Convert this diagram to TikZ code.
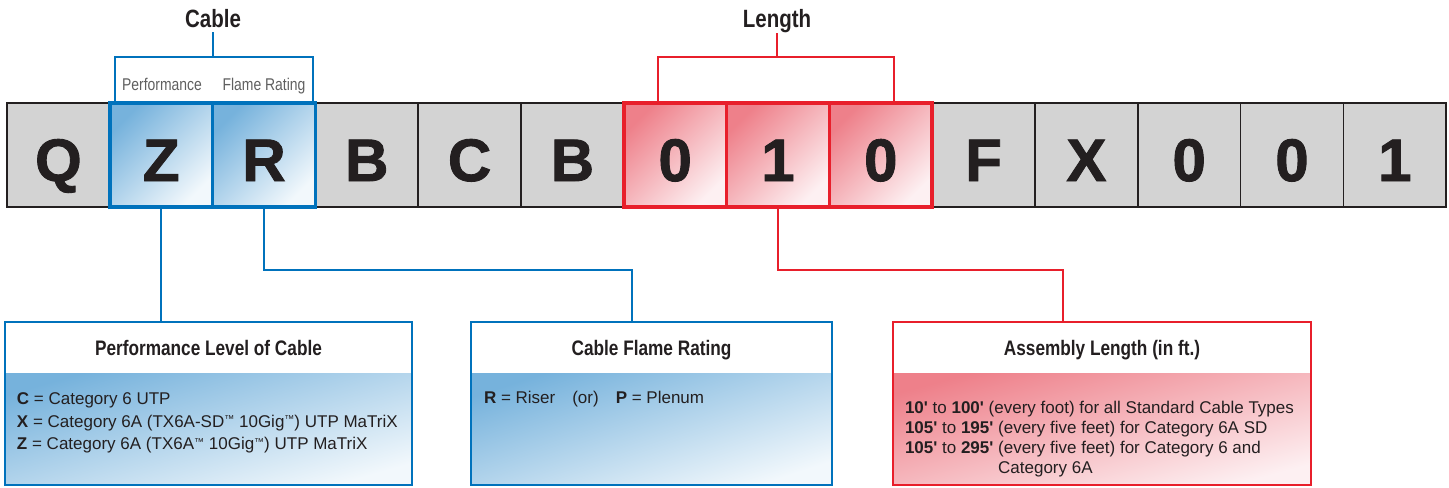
\documentclass[tikz,border=0pt]{standalone}
\usepackage{fontspec}
\setmainfont{Liberation Sans}
\newfontfamily\narrowfont[FakeStretch=0.82]{Liberation Sans}
\newfontfamily\heavyfont[FakeBold=1.5]{Liberation Sans Bold}
\newcommand\tmark{\raisebox{2.2pt}{\fontsize{5}{5}\selectfont ™}}
\usetikzlibrary{positioning}

\definecolor{pblue}{RGB}{0,114,188}
\definecolor{pred}{RGB}{232,31,43}
\definecolor{cellgray}{RGB}{211,211,211}
\definecolor{ink}{RGB}{35,31,32}
\definecolor{labelgray}{RGB}{95,95,95}
\definecolor{bluedark}{RGB}{118,178,220}
\definecolor{bluelight}{RGB}{242,248,252}
\definecolor{reddark}{RGB}{238,128,138}
\definecolor{redlight}{RGB}{253,240,242}

\begin{document}
\begin{tikzpicture}[x=0.5pt, y=-0.5pt,
  every node/.style={inner sep=0pt, outer sep=0pt, text=ink},
  cell/.style={rectangle, draw=ink, line width=0.8pt, fill=cellgray, minimum width=51.4pt, minimum height=52pt, text height=26pt, text depth=0pt, font=\heavyfont\fontsize{30}{30}\selectfont},
  bluecell/.style={cell, draw=pblue, line width=1.8pt, top color=bluedark, bottom color=bluelight, shading angle=45},
  redcell/.style={cell, draw=pred, line width=1.8pt, top color=reddark, bottom color=redlight, shading angle=45},
  title/.style={font=\narrowfont\bfseries\fontsize{12.5}{14}\selectfont},
  tag/.style={font=\narrowfont\fontsize{8.5}{10}\selectfont, text=labelgray},
  blueline/.style={draw=pblue, line width=1pt},
  redline/.style={draw=pred, line width=1pt},
  head/.style={rectangle, minimum height=25.5pt, text height=7.6pt, text depth=0pt, font=\narrowfont\bfseries\fontsize{10.5}{12}\selectfont},
  bluebody/.style={rectangle, minimum height=56pt, top color=bluedark, bottom color=bluelight, shading angle=16},
  redbody/.style={rectangle, minimum height=56pt, top color=reddark, bottom color=redlight, shading angle=15},
  entry/.style={align=left, font=\fontsize{8.5}{11.25}\selectfont}]
  \useasboundingbox (0,0) rectangle (1449,487);

  % part number strip
  \foreach \i/\ch in {0/Q,3/B,4/C,5/B,9/F,10/X,11/0,12/0,13/1}
    \node (c\i) [cell] at ({7+102.8*(\i+0.5)},155) {\ch};
  \foreach \i/\ch in {1/Z,2/R}
    \node (c\i) [bluecell] at ({7+102.8*(\i+0.5)},155) {\ch};
  \foreach \i/\ch in {6/0,7/1,8/0}
    \node (c\i) [redcell] at ({7+102.8*(\i+0.5)},155) {\ch};

  % brackets above
  \node (cable) [title, anchor=base] at (213,27) {Cable};
  \node (length) [title, anchor=base] at (777,27) {Length};
  \node (perftag) [tag, anchor=base] at (162,90) {Performance};
  \node (flametag) [tag, anchor=base] at (264,90) {Flame Rating};
  \draw[blueline] ([xshift=2.8pt]c1.north west) -- ++(0,-46) coordinate (bl) -| ([xshift=-1.2pt]c2.north east);
  \draw[blueline] ([yshift=-2.5pt]cable.base) -- (cable.base |- bl);
  \draw[redline] ([xshift=17pt]c6.north west) -- ++(0,-46) coordinate (rl) -| ([xshift=-19pt]c8.north east);
  \draw[redline] ([yshift=-3pt]length.base) -- (length.base |- rl);

  % description boxes
  \node (perfhead) [head, minimum width=203.5pt, anchor=north west] at (5,322) {Performance Level of Cable};
  \node (perfbody) [bluebody, minimum width=203.5pt, below=0pt of perfhead] {};
  \draw[blueline] (perfhead.north west) rectangle (perfbody.south east);
  \node (flamehead) [head, minimum width=180.5pt, anchor=north west] at (471,322) {Cable Flame Rating};
  \node (flamebody) [bluebody, minimum width=180.5pt, shading angle=18, below=0pt of flamehead] {};
  \draw[blueline] (flamehead.north west) rectangle (flamebody.south east);
  \node (lenhead) [head, minimum width=209pt, anchor=north west] at (893,322) {Assembly Length (in ft.)};
  \node (lenbody) [redbody, minimum width=209pt, below=0pt of lenhead] {};
  \draw[redline] (lenhead.north west) rectangle (lenbody.south east);

  \node (perftext) [entry, anchor=north west] at (17,393) {\textbf{C} = Category 6 UTP\\
    \textbf{X} = Category 6A (TX6A-SD\tmark\ 10Gig\tmark) UTP MaTriX\\
    \textbf{Z} = Category 6A (TX6A\tmark\ 10Gig\tmark) UTP MaTriX};
  \node (flametext) [entry, anchor=north west] at (484,391) {\textbf{R} = Riser\quad (or)\quad \textbf{P} = Plenum};
  \node (lentext) [entry, font=\fontsize{8.5}{10}\selectfont, anchor=north west] at (905,401) {\textbf{10\textquotesingle} to \textbf{100\textquotesingle} (every foot) for all Standard Cable Types\\
    \textbf{105\textquotesingle} to \textbf{195\textquotesingle} (every five feet) for Category 6A SD\\
    \textbf{105\textquotesingle} to \textbf{295\textquotesingle} (every five feet) for Category 6 and\\
    \hphantom{\textbf{105\textquotesingle} to \textbf{295\textquotesingle} }Category 6A};

  % connectors
  \draw[blueline] (c1.south) -- (c1.south |- perfhead.north);
  \draw[blueline] (c2.south) -- ++(0,63) -| ([xshift=-9.75pt]flamehead.north);
  \draw[redline] (c7.south) -- ++(0,63) -| ([xshift=-19.5pt]lenhead.north);
\end{tikzpicture}
\end{document}
